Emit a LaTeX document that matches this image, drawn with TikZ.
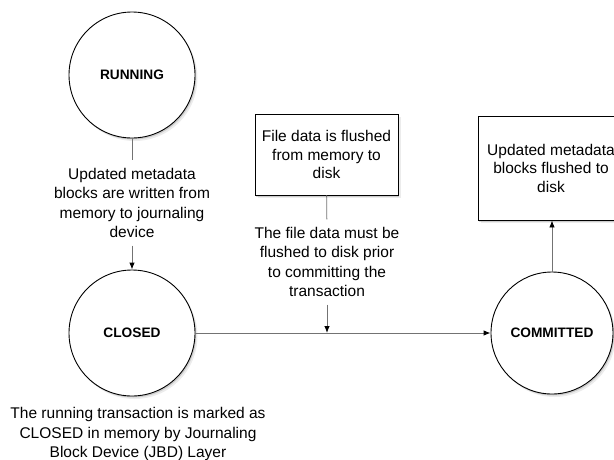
\documentclass[tikz,border=0pt]{standalone}
\usepackage{fontspec}
\setmainfont{Liberation Sans}
\usetikzlibrary{arrows.meta,shadows}
\tikzset{
  jsoft/.style={drop shadow={shadow xshift=2.5pt,shadow yshift=-3pt,opacity=0.15},
    drop shadow={shadow xshift=1.2pt,shadow yshift=-1.5pt,opacity=0.3}},
  jstate/.style={draw,line width=0.9pt,circle,fill=white,inner sep=0pt,minimum size=126pt,
    font=\fontsize{13.7}{16}\selectfont\bfseries,jsoft},
  jbox/.style={draw,line width=0.9pt,fill=white,align=center,
    font=\fontsize{15.5}{18.5}\selectfont,jsoft},
  jlab/.style={align=center,font=\fontsize{15.5}{19.2}\selectfont,inner sep=8pt},
  jcord/.style={line width=0.9pt,black!55},
  jarr/.style={jcord,-{Latex[length=7pt,width=5.5pt,color=black]}},
}
\begin{document}
\begin{tikzpicture}[x=1pt,y=-1pt]
\useasboundingbox (0,0) rectangle (614,459);
% transaction states
\node[jstate] (running) at (132,75) {RUNNING};
\node[jstate] (closed) at (132,333) {CLOSED};
\node[jstate,minimum size=122pt] (committed) at (552,333) {COMMITTED};
% flush boxes
\node[jbox,minimum width=143pt,minimum height=81pt] (fdata) at (326.5,154.5)
  {File data is flushed\\from memory to\\disk};
\node[jbox,minimum width=146pt,minimum height=104pt] (fmeta) at (551,168)
  {Updated metadata\\blocks flushed to\\disk};
% texts on the edges
\node[jlab] (lwrite) at (132,203)
  {Updated metadata\\blocks are written from\\memory to journaling\\device};
\node[jlab] (lmust) at (327,262)
  {The file data must be\\flushed to disk prior\\to committing the\\transaction};
\node[jlab] (lmark) at (138,434)
  {The running transaction is marked as\\CLOSED in memory by Journaling\\Block Device (JBD) Layer};
\coordinate (hit) at (lmust.center |- closed.center);
% connectors
\draw[jcord] (running) -- (lwrite);
\draw[jarr] (lwrite) -- (closed);
\draw[jarr] (closed) -- (committed);
\draw[jcord] (fdata) -- (lmust);
\draw[jarr] (lmust) -- (hit);
\draw[jarr] (committed) -- (committed |- fmeta.south);
\end{tikzpicture}
\end{document}
